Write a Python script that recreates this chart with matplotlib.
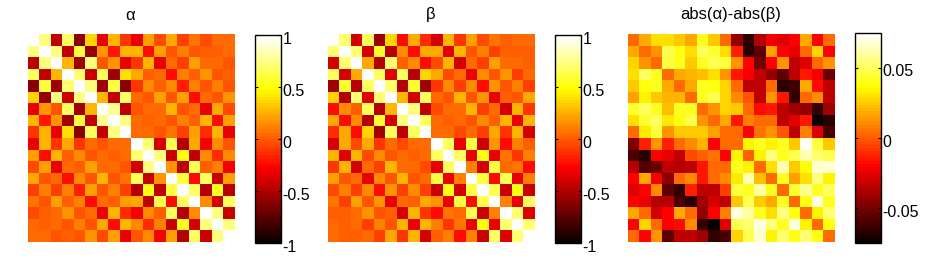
import numpy as np
from matplotlib import pyplot as plt
from matplotlib.transforms import ScaledTranslation

plt.rcParams['font.family'] = ['Liberation Sans', 'DejaVu Sans']

alpha_rows = [
    [1, .72, -.45, .68, -.6, .35, -.33, .25, -.12, -.33, .2, -.05, .22, -.08, .07, -.04, .05, .05],
    [.72, 1, .72, -.45, .6, -.58, .18, -.2, .27, .26, -.22, .2, -.03, .12, -.02, .03, 0, .05],
    [-.45, .72, 1, .28, -.55, .72, -.03, .18, -.32, -.1, .25, -.33, .04, -.07, .2, .05, .05, -.02],
    [.68, -.45, .28, 1, .7, -.42, .66, -.55, .38, .22, .03, .04, -.22, .12, 0, .18, -.03, .03],
    [-.6, .6, -.55, .7, 1, .72, -.55, .6, -.6, -.1, .14, .02, .14, -.17, .12, -.02, .1, -.02],
    [.35, -.58, .72, -.42, .72, 1, .27, -.45, .68, .06, -.02, .2, -.03, .2, -.22, .04, -.02, .18],
    [-.33, .18, -.03, .66, -.55, .27, 1, .75, -.45, -.03, .05, .05, .25, -.03, .05, -.33, .22, -.05],
    [.25, -.2, .18, -.55, .6, -.45, .75, 1, .72, .05, .02, .05, -.03, .12, 0, .25, -.22, .2],
    [-.12, .27, -.32, .38, -.6, .68, -.45, .72, 1, .05, .05, -.03, .07, -.08, .2, -.13, .25, -.33],
    [-.33, .26, -.1, .22, -.1, .06, -.03, .05, .05, 1, .7, -.4, .65, -.5, .22, -.3, .15, -.02],
    [.2, -.22, .25, .03, .14, -.02, .05, .02, .05, .7, 1, .72, -.42, .52, -.45, .15, -.15, .15],
    [-.05, .2, -.33, .04, .02, .2, .05, .05, -.03, -.4, .72, 1, .18, -.45, .65, .03, .12, -.3],
    [.22, -.03, .04, -.22, .14, -.03, .25, -.03, .07, .65, -.42, .18, 1, .62, -.25, .68, -.42, .2],
    [-.08, .12, -.07, .12, -.17, .2, -.03, .12, -.08, -.5, .52, -.45, .62, 1, .66, -.5, .55, -.48],
    [.07, -.02, .2, 0, .12, -.22, .05, 0, .2, .22, -.45, .65, -.25, .66, 1, .15, -.4, .68],
    [-.04, .03, .05, .18, -.02, .04, -.33, .25, -.13, -.3, .15, .03, .68, -.5, .15, 1, .72, -.42],
    [.05, 0, .05, -.03, .1, -.02, .22, -.22, .25, .15, -.15, .12, -.42, .55, -.4, .72, 1, .72],
    [.05, .05, -.02, .03, -.02, .18, -.05, .2, -.33, -.02, .15, -.3, .2, -.48, .68, -.42, .72, 1],
]

beta_rows = [
    [1, .7, -.4, .66, -.55, .35, -.25, .22, -.13, -.4, .25, -.1, .2, -.05, .07, 0, .05, .05],
    [.7, 1, .7, -.4, .58, -.5, .13, -.25, .22, .22, -.35, .25, -.03, .12, -.08, .03, .02, .03],
    [-.4, .7, 1, .22, -.5, .7, .03, .14, -.25, -.06, .27, -.38, .04, -.07, .2, .05, .05, 0],
    [.66, -.4, .22, 1, .68, -.37, .66, -.5, .37, .22, -.04, .06, -.32, .15, -.03, .18, -.08, .05],
    [-.55, .58, -.5, .68, 1, .7, -.5, .58, -.55, -.1, .15, -.08, .14, -.22, .17, -.03, .12, -.08],
    [.35, -.5, .7, -.37, .7, 1, .25, -.4, .68, .05, -.03, .25, -.03, .18, -.33, .03, -.03, .22],
    [-.25, .13, .03, .66, -.5, .25, 1, .72, -.45, -.05, .05, .05, .25, -.08, .05, -.4, .27, -.1],
    [.22, -.25, .14, -.5, .58, -.4, .72, 1, .68, .05, .02, .04, -.03, .15, 0, .27, -.33, .25],
    [-.13, .22, -.25, .37, -.55, .68, -.45, .68, 1, .04, .04, -.05, .06, -.08, .22, -.1, .28, -.4],
    [-.4, .22, -.06, .22, -.1, .05, -.05, .05, .04, 1, .66, -.33, .6, -.42, .17, -.25, .1, 0],
    [.25, -.35, .27, -.04, .15, -.03, .05, .02, .04, .66, 1, .68, -.33, .5, -.33, .08, -.1, .1],
    [-.1, .25, -.38, .06, -.08, .25, .05, .04, -.05, -.33, .68, 1, .12, -.4, .62, .05, .07, -.25],
    [.2, -.03, .04, -.32, .14, -.03, .25, -.03, .06, .6, -.33, .12, 1, .6, -.25, .65, -.33, .12],
    [-.05, .12, -.07, .15, -.22, .18, -.08, .15, -.08, -.42, .5, -.4, .6, 1, .64, -.42, .52, -.42],
    [.07, -.08, .2, -.03, .17, -.33, .05, 0, .22, .17, -.33, .62, -.25, .64, 1, .12, -.33, .66],
    [0, .03, .05, .18, -.03, .03, -.4, .27, -.1, -.25, .08, .05, .65, -.42, .12, 1, .7, -.35],
    [.05, .02, .05, -.08, .12, -.03, .27, -.33, .28, .1, -.1, .07, -.33, .52, -.33, .7, 1, .7],
    [.05, .03, 0, .05, -.08, .22, -.1, .25, -.4, 0, .1, -.25, .12, -.42, .66, -.35, .7, 1],
]

# difference panel, in thousandths
diff_rows = [
    [3, 17, 29, 29, 25, 17, 42, 24, 3, -44, -66, -37, -22, -27, -19, 17, -19, 3],
    [17, 4, 12, 47, 38, 30, 50, 43, 30, -12, -67, -55, 16, -19, -25, 4, 27, -19],
    [28, 12, 3, 45, 42, 24, 42, 48, 45, 12, -19, -50, -20, 12, -33, -28, 4, 13],
    [29, 50, 42, 4, 17, 20, 22, 30, 14, -15, -23, -33, -43, -55, -35, -15, -23, -52],
    [24, 38, 42, 18, 4, 18, 42, 38, 27, 3, -33, -35, 3, -66, -62, 17, -18, -33],
    [16, 33, 25, 20, 20, 4, 42, 48, 27, 10, -1, -33, 12, -15, -65, 4, 10, -33],
    [43, 50, 42, 22, 42, 42, 4, 12, 27, 24, 3, -17, -15, -33, -40, -43, -65, -40],
    [29, 44, 50, 31, 39, 47, 12, 4, 18, -16, 8, 3, 4, -33, -27, -15, -75, -66],
    [4, 31, 46, 14, 24, 24, 24, 16, 4, 4, -19, 6, 12, -2, -33, 8, -28, -60],
    [-47, -12, 12, -14, 4, 11, 20, -19, 4, 4, 33, 41, 33, 41, 25, 72, 45, 25],
    [-60, -66, -19, -24, -33, -3, 2, 6, -19, 33, 2, 33, 55, 42, 47, 62, 52, 48],
    [-36, -58, -53, -33, -36, -33, -15, 3, 3, 41, 35, 3, 30, 62, 25, 37, 67, 67],
    [-19, 17, -22, -45, 3, 11, -15, 3, 10, 32, 61, 22, 3, 41, 16, 30, 55, 35],
    [-26, -19, 10, -55, -65, -12, -33, -33, -5, 45, 40, 60, 40, 3, 43, 58, 40, 50],
    [-19, -25, -36, -36, -60, -66, -42, -30, -33, 25, 48, 24, 17, 42, 3, 38, 70, 40],
    [17, 4, -30, -19, 17, 3, -44, -19, 8, 70, 60, 40, 30, 55, 38, 3, 33, 53],
    [-19, 27, 4, -19, -18, 10, -65, -74, -27, 47, 52, 68, 55, 42, 68, 33, 3, 38],
    [3, -19, 13, -55, -33, -33, -42, -65, -60, 26, 48, 66, 35, 52, 38, 52, 38, 3],
]

titles = ['α', 'β', 'abs(α)-abs(β)']
corr_ticks = [-1, -0.5, 0, 0.5, 1]
corr_labels = ['-1', '-0.5', '0', '0.5', '1']
diff_ticks = [-0.05, 0, 0.05]
diff_labels = ['-0.05', '0', '0.05']
W, H = 928, 276


def panel(fig, left, data, vmax, title, ticks, labels, bar_top):
    ax = fig.add_axes([left / W, 1 - 242 / H, 207 / W, 208 / H])
    im = ax.imshow(data, cmap=plt.get_cmap('hot', 64), vmin=-vmax, vmax=vmax,
                   interpolation='nearest', aspect='auto')
    ax.axis('off')
    fig.text((left + 102.5) / W, 1 - 15 / H, title, ha='center', va='center', fontsize=12)

    cax = fig.add_axes([(left + 227.5) / W, 1 - 243 / H, 25.5 / W, (243 - bar_top) / H])
    cb = fig.colorbar(im, cax=cax)
    cb.set_ticks(ticks)
    cb.set_ticklabels(labels)
    cb.outline.set_linewidth(1)
    cb.outline.set_edgecolor('black')
    cax.tick_params(left=True, right=True, direction='in', length=2, width=0.8,
                    labelsize=11.5, pad=1)
    # labels sit a little below their ticks in the original
    nudge = ScaledTranslation(0, -2 / 72, fig.dpi_scale_trans)
    for lab in cax.get_yticklabels():
        lab.set_transform(lab.get_transform() + nudge)


fig = plt.figure(figsize=(W / 100, H / 100), dpi=100)
panel(fig, 28, np.array(alpha_rows), 1, titles[0], corr_ticks, corr_labels, 35)
panel(fig, 328, np.array(beta_rows), 1, titles[1], corr_ticks, corr_labels, 35)
panel(fig, 628, np.array(diff_rows) / 1000, 0.075, titles[2], diff_ticks, diff_labels, 32.5)
fig.savefig('out.png', dpi=100)
